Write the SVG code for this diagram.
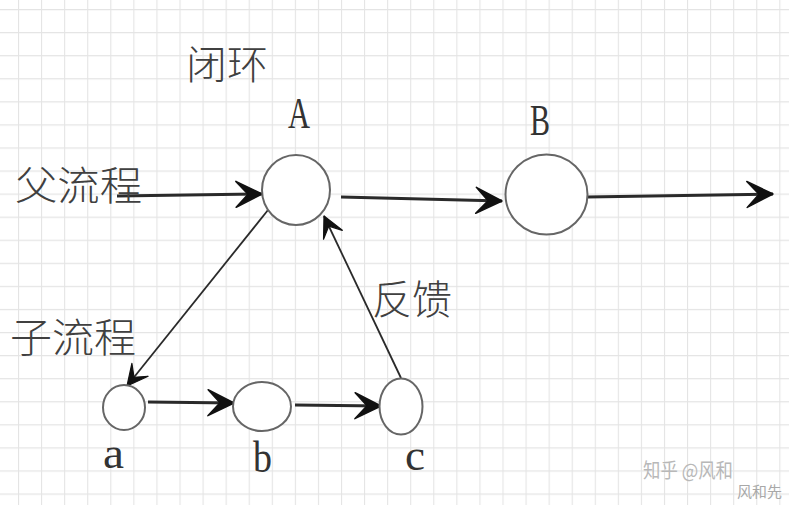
<svg xmlns="http://www.w3.org/2000/svg" width="789" height="505" viewBox="0 0 789 505">
  <style>
    .node { fill: #ffffff; stroke: #666666; stroke-width: 2; }
    .edge { fill: none; stroke: #2a2a2a; stroke-width: 3; }
    .edge-thin { fill: none; stroke: #2a2a2a; stroke-width: 1.8; }
    .cjk { font-family: "Noto Sans CJK SC", "Noto Sans CJK JP", sans-serif; font-size: 40px; fill: #404040; font-weight: 300; }
    .lat { font-family: "Liberation Serif", "DejaVu Serif", serif; font-size: 44px; fill: #333333; }
    .wm { font-family: "Noto Sans CJK SC", sans-serif; font-size: 20px; fill: #b8b8b8; }
    .wm2 { font-family: "Noto Sans CJK SC", sans-serif; font-size: 15px; fill: #a8a8a8; }
  </style>
  <defs>
    <pattern id="grid" patternUnits="userSpaceOnUse" x="18" y="9" width="23.07" height="23.07">
      <path d="M0,0 V23.07 M0,0 H23.07" fill="none" stroke="#e4e4e4" stroke-width="2.2"/>
    </pattern>
    <marker id="arr" viewBox="0 0 30 30" refX="28" refY="15" markerWidth="30" markerHeight="30" markerUnits="userSpaceOnUse" orient="auto">
      <path d="M28,15 L2,2 L14,15 L2,28 Z" fill="#111111" stroke="#111111" stroke-width="1.5" stroke-linejoin="round"/>
    </marker>
    <marker id="arr-s" viewBox="0 0 30 30" refX="28" refY="15" markerWidth="24" markerHeight="24" markerUnits="userSpaceOnUse" orient="auto">
      <path d="M28,15 L2,2 L14,15 L2,28 Z" fill="#111111" stroke="#111111" stroke-width="1.5" stroke-linejoin="round"/>
    </marker>
  </defs>
  <rect width="789" height="505" fill="#ffffff"/>
  <rect width="789" height="505" fill="url(#grid)"/>

  <g id="connectors">
    <path class="edge" d="M117,196 L262,194" marker-end="url(#arr)"/>
    <path class="edge" d="M341,197 L502,201" marker-end="url(#arr)"/>
    <path class="edge" d="M587,197 L773,194" marker-end="url(#arr)"/>
    <path class="edge-thin" d="M268,210 L127,386" marker-end="url(#arr-s)"/>
    <path class="edge-thin" d="M401,378 L324,216" marker-end="url(#arr-s)"/>
    <path class="edge" d="M148,402 L234,403" marker-end="url(#arr)"/>
    <path class="edge" d="M295,405 L381,406" marker-end="url(#arr)"/>
  </g>

  <g id="node-A">
    <ellipse class="node" cx="296" cy="190" rx="34" ry="35"/>
    <text class="lat" x="288" y="128" textLength="22" lengthAdjust="spacingAndGlyphs">A</text>
  </g>
  <g id="node-B">
    <ellipse class="node" cx="546.5" cy="194.5" rx="41" ry="40"/>
    <text class="lat" x="530" y="135" textLength="20" lengthAdjust="spacingAndGlyphs">B</text>
  </g>
  <g id="node-a">
    <ellipse class="node" cx="124" cy="407.5" rx="21" ry="22.5"/>
    <text class="lat" x="103" y="468" textLength="21" lengthAdjust="spacingAndGlyphs">a</text>
  </g>
  <g id="node-b">
    <ellipse class="node" cx="262" cy="406.5" rx="29" ry="24.5"/>
    <text class="lat" x="253" y="472" textLength="19" lengthAdjust="spacingAndGlyphs">b</text>
  </g>
  <g id="node-c">
    <ellipse class="node" cx="401" cy="406.5" rx="21.5" ry="28"/>
    <text class="lat" x="405" y="470" textLength="20" lengthAdjust="spacingAndGlyphs">c</text>
  </g>

  <g id="labels">
    <text class="cjk" x="186" y="79" textLength="82" lengthAdjust="spacingAndGlyphs">闭环</text>
    <text class="cjk" x="15" y="200" textLength="127" lengthAdjust="spacingAndGlyphs">父流程</text>
    <text class="cjk" x="10" y="352" textLength="126" lengthAdjust="spacingAndGlyphs">子流程</text>
    <text class="cjk" x="372" y="314" textLength="80" lengthAdjust="spacingAndGlyphs">反馈</text>
  </g>

  <g id="watermark">
    <text class="wm" x="643" y="478" textLength="90" lengthAdjust="spacingAndGlyphs">知乎 @风和</text>
    <text class="wm2" x="737" y="497">风和先</text>
  </g>
</svg>
